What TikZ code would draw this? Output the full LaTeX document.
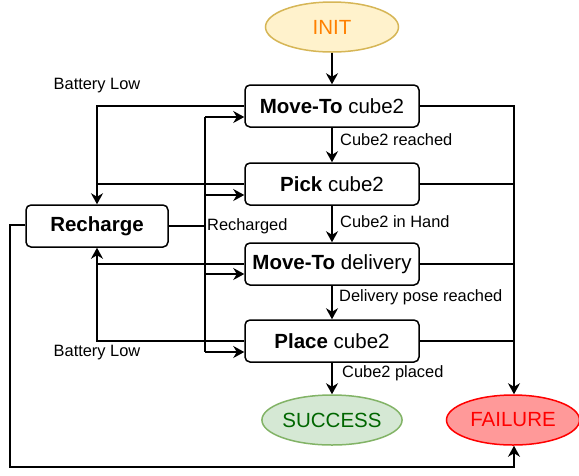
\documentclass[tikz,border=0pt]{standalone}
\usepackage{fontspec}
\setmainfont{Liberation Sans}
\usetikzlibrary{arrows.meta,shapes.geometric,calc}
\definecolor{initfill}{HTML}{FFF2CC}
\definecolor{initdraw}{HTML}{D6B656}
\definecolor{inittext}{HTML}{FF8000}
\definecolor{succfill}{HTML}{D5E8D4}
\definecolor{succdraw}{HTML}{82B366}
\definecolor{succtext}{HTML}{006600}
\definecolor{failfill}{HTML}{FF9999}
\definecolor{faildraw}{HTML}{FF0000}
\definecolor{failtext}{HTML}{FF0000}
\tikzset{
  statebox/.style={draw=black, line width=1.5pt, rounded corners=5pt, fill=white,
    minimum width=174pt, minimum height=42pt, inner sep=0pt,
    font=\fontsize{20.5}{24}\selectfont},
  termnode/.style={ellipse, line width=1.5pt, minimum width=133pt, minimum height=50pt,
    inner sep=0pt, font=\fontsize{20.5}{24}\selectfont},
  conn/.style={line width=1.5pt},
  arr/.style={conn, -{Stealth[length=11pt,width=12pt,inset=3.5pt]}},
  lbl/.style={font=\fontsize{16.4}{19}\selectfont, inner sep=0pt},
}
\begin{document}
\begin{tikzpicture}[x=1pt,y=-1pt]
\useasboundingbox (0,0) rectangle (579,475);
% nodes
\node[termnode, draw=initdraw, fill=initfill, text=inittext] (init) at (332,27) {INIT};
\node[statebox] (m1) at (332,106) {\textbf{Move-To} cube2};
\node[statebox] (pick) at (332,184) {\textbf{Pick} cube2};
\node[statebox] (m2) at (332,264) {\textbf{Move-To} delivery};
\node[statebox] (place) at (332,341) {\textbf{Place} cube2};
\node[termnode, draw=succdraw, fill=succfill, text=succtext] (succ) at (332,420) {SUCCESS};
\node[termnode, draw=faildraw, fill=failfill, text=failtext] (fail) at (513,420) {FAILURE};
\node[statebox, minimum width=142pt] (rech) at (97,226) {\textbf{Recharge}};
% coordinates
\coordinate (failx) at (514,0);
\coordinate (lowy) at (0,467);
\coordinate (leftx) at (10,0);
\coordinate (busx) at (205,0);
% main chain
\draw[arr] (init) -- (m1);
\draw[arr] (m1) -- (pick);
\draw[arr] (pick) -- (m2);
\draw[arr] (m2) -- (place);
\draw[arr] (place) -- (succ);
\node[lbl, anchor=west] (l1) at (340,140) {Cube2 reached};
\node[lbl, anchor=west] (l2) at (340,222) {Cube2 in Hand};
\node[lbl, anchor=west] (l3) at (339,297) {Delivery pose reached};
\node[lbl, anchor=west] (l4) at (342,373) {Cube2 placed};
% failure lines
\draw[arr] (m1.east) -- (m1.east -| failx) -- (fail.north -| failx);
\draw[conn] (pick.east) -- (pick.east -| failx);
\draw[conn] (m2.east) -- (m2.east -| failx);
\draw[conn] (place.east) -- (place.east -| failx);
\draw[arr] ([yshift=1pt]rech.west) -- ([yshift=1pt]rech.west -| leftx) -- (leftx |- lowy) -- (failx |- lowy) -- (fail.south -| failx);
% battery low
\draw[arr] (m1.west) -- (m1.west -| rech.north) -- (rech.north);
\draw[conn] (pick.west) -- (pick.west -| rech.north);
\draw[arr] (place.west) -- (place.west -| rech.south) -- (rech.south);
\draw[conn] (m2.west) -- (m2.west -| rech.south);
\node[lbl] (bl1) at (97,86) {Battery Low};
\node[lbl] (bl2) at (97,353) {Battery Low};
% recharged
\coordinate (m1in) at ($(m1.west)+(0,11)$);
\coordinate (pickin) at ($(pick.west)+(0,11)$);
\coordinate (m2in) at ($(m2.west)+(0,10)$);
\coordinate (placein) at ($(place.west)+(0,11)$);
\draw[conn] (rech.east) -- (rech.east -| busx);
\draw[conn] (busx |- m1in) -- (busx |- placein);
\draw[arr] (busx |- m1in) -- (m1in);
\draw[arr] (busx |- pickin) -- (pickin);
\draw[arr] (busx |- m2in) -- (m2in);
\draw[arr] (busx |- placein) -- (placein);
\node[lbl, anchor=west, fill=white, inner sep=1pt] (rl) at (206,226) {Recharged};
\end{tikzpicture}
\end{document}
